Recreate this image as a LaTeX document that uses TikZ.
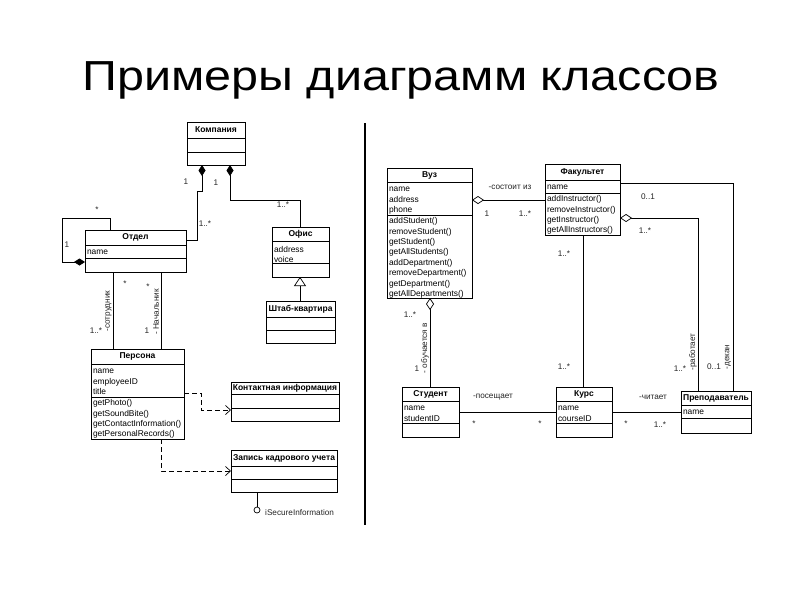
\documentclass[tikz,border=0pt]{standalone}
\usepackage{fontspec}
\setmainfont{Liberation Sans}
\newfontfamily\titlefont[FakeStretch=1.154]{Liberation Sans}
\usetikzlibrary{arrows.meta,calc}
\tikzset{
  clsbox/.style={draw=black, line width=0.7pt, fill=white, inner sep=0pt, outer sep=0pt},
  clstitle/.style={font=\fontsize{8.5}{9}\selectfont\bfseries, inner sep=0pt},
  clsattr/.style={font=\fontsize{8.4}{10.4}\selectfont, align=left, inner xsep=1.8pt, inner ysep=1.5pt},
  lbl/.style={font=\fontsize{8.2}{9}\selectfont, inner sep=0pt, text=black!85},
  rlbl/.style={lbl, rotate=90},
  conn/.style={draw=black, line width=0.7pt},
  comp/.style={conn, {Diamond[length=11pt,width=7pt]}-},
  compend/.style={conn, -{Diamond[length=11pt,width=7pt]}},
  aggr/.style={conn, {Diamond[open,length=12pt,width=8pt,fill=white]}-},
  gen/.style={conn, -{Triangle[open,length=9pt,width=12pt,fill=white]}},
  dep/.style={conn, dash pattern=on 5pt off 3pt, -{Straight Barb[length=5pt,width=9pt]}},
}
% #1 name, #2 x, #3 y, #4 width, #5 header h, #6 attr h, #7 ops h, #8 title, #9 attrs
\newcommand{\umlclass}[9]{%
  \node[clsbox, minimum width=#4pt, minimum height=#5pt+#6pt+#7pt, anchor=north west] (#1) at (#2,#3) {};
  \draw[line width=0.7pt] (#1.north west) ++(0,#5) coordinate (#1-a) -- ++(#4,0);
  \draw[line width=0.7pt] (#1-a) ++(0,#6) coordinate (#1-b) -- ++(#4,0);
  \node[clstitle] (#1-t) at ($(#1.north)+(0,#5/2)$) {#8};
  \node[clsattr, anchor=north west] (#1-at) at ($(#1-a)+(0,3.5)$) {#9};
}
\newcommand{\umlops}[2]{\node[clsattr, anchor=north west] (#1-op) at ($(#1-b)+(0,1)$) {#2};}
\begin{document}
\begin{tikzpicture}[x=1pt,y=-1pt]
\useasboundingbox (0,0) rectangle (800,600);
\fill[white] (0,0) rectangle (800,600);

\node[font=\titlefont\fontsize{42}{48}\selectfont, anchor=base, inner sep=0pt] (title) at (401,90) {Примеры диаграмм классов};

\draw[line width=1.6pt] (365,123) -- (365,525);

% ---------- left diagram ----------
\umlclass{komp}{187}{122}{58}{16}{14}{13}{Компания}{}
\umlclass{otdel}{85}{230}{101}{15}{13}{14}{Отдел}{name}
\umlclass{ofis}{272}{227}{57}{14}{22}{14}{Офис}{address\\voice}
\umlclass{shtab}{266}{301}{69}{16}{13}{13}{Штаб-квартира}{}
\umlclass{pers}{91}{349}{93}{15}{33}{42}{Персона}{name\\employeeID\\title}
\umlops{pers}{getPhoto()\\getSoundBite()\\getContactInformation()\\getPersonalRecords()}
\umlclass{kontakt}{231}{382}{108}{12}{14}{13}{Контактная информация}{}
\umlclass{zapis}{231}{450}{106}{16}{13}{13}{Запись кадрового учета}{}

% Компания -> Отдел
\draw[comp] (komp.south -| 202,0) -- (202,191) -- (197,191) -- (197,240) -- (otdel.east |- 0,240);
\node[lbl] (l1) at (186,182) {1};
\node[lbl] (l2) at (205,224) {1..*};
% Компания -> Офис
\draw[comp] (komp.south -| 230,0) -- (230,200) -- (300,200) -- (ofis.north -| 300,0);
\node[lbl] (l3) at (216,183) {1};
\node[lbl] (l4) at (283,205) {1..*};
% self association Отдел
\draw[compend] (otdel.north -| 110,0) -- (110,218) -- (62,218) -- (62,262) -- (otdel.west |- 0,262);
\node[lbl] (l5) at (97,210) {*};
\node[lbl] (l6) at (67,245) {1};
% Отдел - Персона
\draw[conn] (otdel.south -| 113,0) -- (pers.north -| 113,0);
\draw[conn] (otdel.south -| 161,0) -- (pers.north -| 161,0);
\node[lbl] (l7) at (125,284) {*};
\node[lbl] (l8) at (148,287) {*};
\node[lbl] (l9) at (96,331) {1..*};
\node[lbl] (l10) at (147,331) {1};
\node[rlbl] (l11) at (108.5,311) {-сотрудник};
\node[rlbl] (l12) at (156,312) {- Начальник};
% generalization
\draw[gen] (shtab.north -| 300,0) -- (ofis.south -| 300,0);
% dependencies
\draw[dep] (pers.east |- 0,393) -- (201,393) -- (201,410) -- (kontakt.west |- 0,410);
\draw[dep] (pers.south -| 161,0) -- (161,471) -- (zapis.west |- 0,471);
% interface lollipop
\coordinate (lolli) at (257,510);
\draw[conn] (zapis.south -| 257,0) -- (257,507);
\draw[line width=0.7pt, fill=white] (lolli) circle (3);
\node[lbl, anchor=west] (l13) at (265,513) {iSecureInformation};

% ---------- right diagram ----------
\umlclass{vuz}{387}{168}{85}{14}{33}{83}{Вуз}{name\\address\\phone}
\umlops{vuz}{addStudent()\\removeStudent()\\getStudent()\\getAllStudents()\\addDepartment()\\removeDepartment()\\getDepartment()\\getAllDepartments()}
\umlclass{fak}{545}{164}{75}{16}{13}{42}{Факультет}{name}
\umlops{fak}{addInstructor()\\removeInstructor()\\getInstructor()\\getAllInstructors()}
\umlclass{stud}{402}{387}{57}{14}{22}{14}{Студент}{name\\studentID}
\umlclass{kurs}{556}{387}{56}{14}{22}{14}{Курс}{name\\courseID}
\umlclass{prep}{681}{391}{70}{14}{13}{15}{Преподаватель}{name}

% Вуз - Факультет
\draw[aggr] (vuz.east |- 0,200) -- (fak.west |- 0,200);
\node[lbl] (r1) at (510,187) {-состоит из};
\node[lbl] (r2) at (487,214) {1};
\node[lbl] (r3) at (525,214) {1..*};
% Вуз - Студент
\draw[aggr] (vuz.south -| 430,0) -- (stud.north -| 430,0);
\node[lbl] (r4) at (410,315) {1..*};
\node[lbl] (r5) at (417,369) {1};
\node[rlbl] (r6) at (425,348) {- обучается в};
% Факультет - Курс
\draw[conn] (fak.south -| 583,0) -- (kurs.north -| 583,0);
\node[lbl] (r7) at (564,254) {1..*};
\node[lbl] (r8) at (564,367) {1..*};
% Факультет - Преподаватель (декан)
\draw[conn] (fak.east |- 0,183) -- (733,183) -- (prep.north -| 733,0);
\node[lbl] (r9) at (648,197) {0..1};
\node[lbl] (r10) at (714,367) {0..1};
\node[rlbl] (r11) at (728,357) {-декан};
% Факультет - Преподаватель (работает)
\draw[aggr] (fak.east |- 0,218) -- (698,218) -- (prep.north -| 698,0);
\node[lbl] (r12) at (645,231) {1..*};
\node[lbl] (r13) at (680,369) {1..*};
\node[rlbl] (r14) at (693,352) {-работает};
% Студент - Курс
\draw[conn] (stud.east |- 0,412) -- (kurs.west |- 0,412);
\node[lbl] (r15) at (493,397) {-посещает};
\node[lbl] (r16) at (474,424) {*};
\node[lbl] (r17) at (540,424) {*};
% Курс - Преподаватель
\draw[conn] (kurs.east |- 0,412) -- (prep.west |- 0,412);
\node[lbl] (r18) at (653,397) {-читает};
\node[lbl] (r19) at (626,424) {*};
\node[lbl] (r20) at (660,425) {1..*};
\end{tikzpicture}
\end{document}
